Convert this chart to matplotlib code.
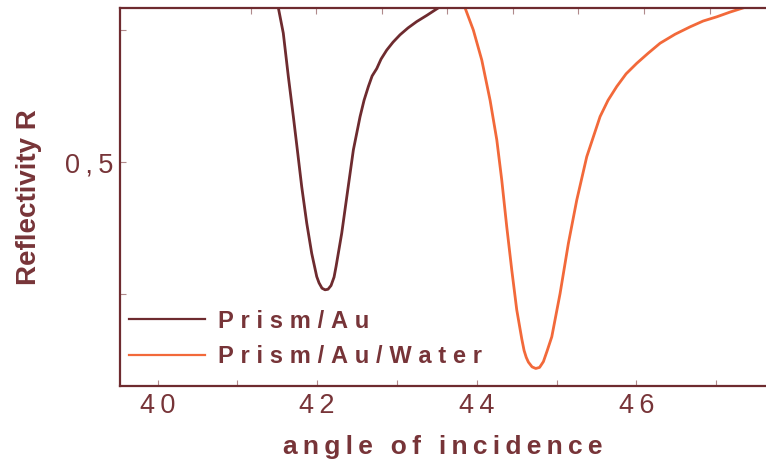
import matplotlib.pyplot as plt

# reflectivity curves, sampled along the dip
angle_au = [41.514, 41.576, 41.639, 41.702, 41.752, 41.807, 41.870, 41.932,
            41.995, 42.024, 42.061, 42.099, 42.136, 42.174, 42.212, 42.237,
            42.308, 42.378, 42.454, 42.538, 42.588, 42.642, 42.689, 42.747,
            42.801, 42.872, 42.951, 43.039, 43.139, 43.248, 43.377, 43.519]
refl_au = [0.792, 0.744, 0.662, 0.586, 0.523, 0.453, 0.384, 0.327,
           0.283, 0.271, 0.261, 0.258, 0.259, 0.266, 0.282, 0.302,
           0.365, 0.441, 0.523, 0.586, 0.617, 0.643, 0.663, 0.677,
           0.695, 0.712, 0.727, 0.741, 0.754, 0.766, 0.778, 0.792]

angle_water = [43.853, 43.957, 44.063, 44.167, 44.251, 44.313, 44.376, 44.439,
               44.501, 44.564, 44.593, 44.620, 44.647, 44.693, 44.739, 44.787,
               44.835, 44.881, 44.940, 45.044, 45.148, 45.253, 45.378, 45.545,
               45.645, 45.754, 45.871, 46.005, 46.147, 46.297, 46.485, 46.673,
               46.836, 47.007, 47.174, 47.341]
refl_water = [0.792, 0.750, 0.693, 0.617, 0.542, 0.466, 0.377, 0.295,
              0.220, 0.165, 0.143, 0.130, 0.121, 0.112, 0.109, 0.111,
              0.122, 0.142, 0.169, 0.251, 0.346, 0.428, 0.510, 0.586,
              0.617, 0.643, 0.667, 0.687, 0.706, 0.725, 0.742, 0.756,
              0.767, 0.775, 0.784, 0.792]

series_labels = ['Prism/Au', 'Prism/Au/Water']
x_major = [40, 42, 44, 46]
x_minor = [41, 43, 45, 47]
y_ticks = [0.25, 0.5, 0.75]
y_labels = ['', '0,5', '']

maroon = '#6e2b2f'
text_col = '#773438'
orange = '#f2693a'

plt.rcParams['font.family'] = ['Liberation Sans', 'DejaVu Sans']


def spaced(s, gap='\u2009'):
    return gap.join(s)


fig = plt.figure(figsize=(7.66, 4.61), dpi=100)
ax = fig.add_axes([120 / 766, 75 / 461, 680 / 766, 378 / 461])

ax.plot(angle_au, refl_au, color=maroon, lw=2.0, solid_joinstyle='round',
        label=spaced(series_labels[0], '\u2009\u200a'))
ax.plot(angle_water, refl_water, color=orange, lw=2.0, solid_joinstyle='round',
        label=spaced(series_labels[1], '\u2009\u200a'))

ax.set_xlim(39.53, 48.05)
ax.set_ylim(0.0758, 0.7917)

for side in ['left', 'bottom', 'top']:
    ax.spines[side].set_color(maroon)
    ax.spines[side].set_linewidth(1.6)
ax.spines['right'].set_visible(False)

ax.set_xticks(x_major)
ax.set_xticks(x_minor, minor=True)
ax.set_xticklabels([spaced(str(v)) for v in x_major])
ax.set_yticks(y_ticks)
ax.set_yticklabels([spaced(l) for l in y_labels])
ax.tick_params(which='both', direction='in', length=4, width=0.8, color='#b08a8c',
               labelsize=19.5, labelcolor=text_col, pad=5)

# top frame carries its own faint tick marks
top = ax.secondary_xaxis('top')
top.set_xticks([41.17, 41.99, 42.81, 43.63, 44.46, 45.27, 46.10, 46.92, 47.74])
top.set_xticklabels([])
top.tick_params(direction='in', length=4, width=0.8, color='#b08a8c')
top.spines['top'].set_visible(False)

ax.set_xlabel(spaced('angle of incidence', '\u2009'), fontsize=19, fontweight='bold',
              color=text_col)
ax.set_ylabel('Reflectivity R', fontsize=20, fontweight='bold', color=text_col, labelpad=16)
ax.xaxis.set_label_coords(323 / 680, -0.13)

leg = ax.legend(loc='center left', bbox_to_anchor=(0.0, 0.125), frameon=False,
                handlelength=3.2, handletextpad=0.55, labelspacing=0.52,
                prop={'size': 17, 'weight': 'bold'}, borderaxespad=0.0)
for t in leg.get_texts():
    t.set_color(text_col)
for h in leg.legend_handles:
    h.set_linewidth(1.6)

fig.savefig('out.png', dpi=100)
